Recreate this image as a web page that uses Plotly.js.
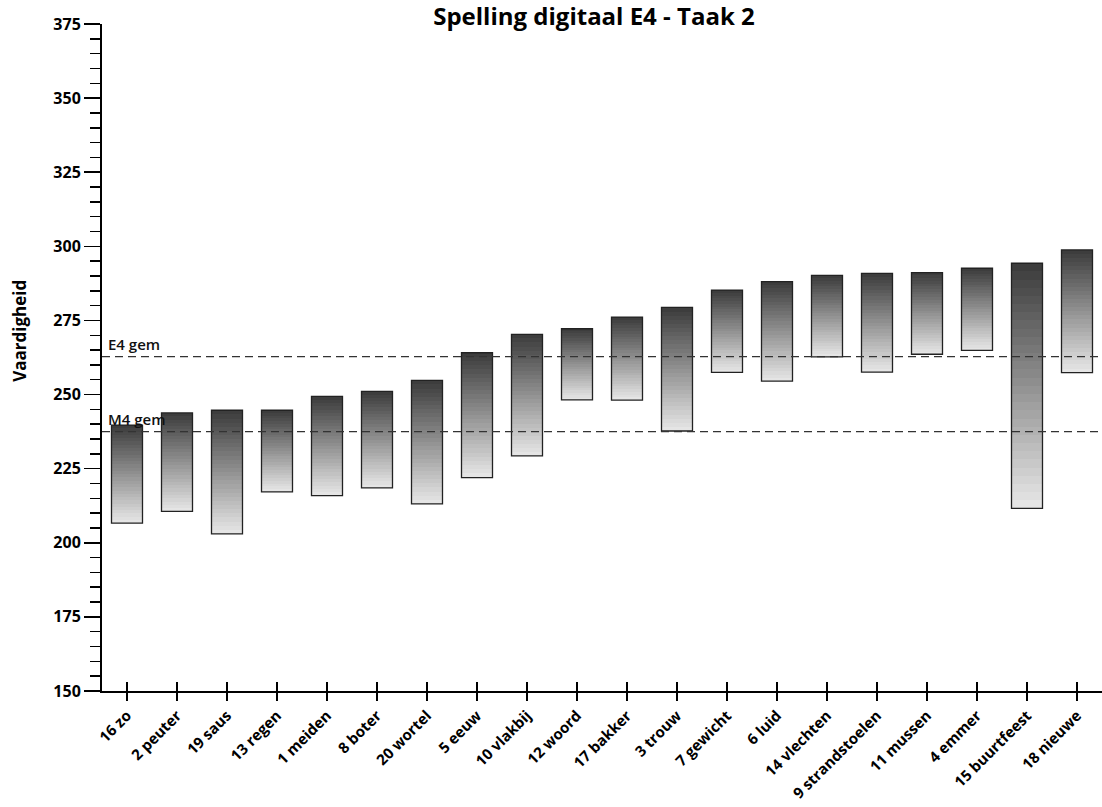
<!DOCTYPE html>
<html>
<head>
<meta charset="utf-8">
<script src="https://cdn.plot.ly/plotly-3.0.1.min.js"></script>
<style>html,body{margin:0;padding:0;background:#fff;}#chart{width:1102px;height:807px;}</style>
</head>
<body>
<div id="chart"></div>
<script>
// Data
const categories = ["16 zo","2 peuter","19 saus","13 regen","1 meiden","8 boter","20 wortel","5 eeuw","10 vlakbij","12 woord","17 bakker","3 trouw","7 gewicht","6 luid","14 vlechten","9 strandstoelen","11 mussen","4 emmer","15 buurtfeest","18 nieuwe"];
const highValues = [239.7,243.8,244.7,244.7,249.4,251.1,254.8,264.1,270.3,272.2,276.1,279.4,285.2,288.1,290.2,290.9,291.1,292.6,294.3,298.8];
const lowValues  = [206.6,210.6,203.0,217.2,215.9,218.5,213.1,222.0,229.3,248.2,248.1,237.7,257.5,254.5,262.7,257.6,263.6,264.9,211.6,257.4];
const refNames = ["E4 gem","M4 gem"];
const refValues = [262.8,237.5];
const chartTitle = "Spelling digitaal E4 - Taak 2";
const yTitle = "Vaardigheid";

const FONT = "Open Sans, Noto Sans, sans-serif";
const N = 30;
const dark = [58,58,58], light = [232,232,232];
function mix(t){ // t=0 bottom(light) .. 1 top(dark)
  const c = light.map((l,i)=>Math.round(l + (dark[i]-l)*t));
  return `rgb(${c[0]},${c[1]},${c[2]})`;
}
const traces = [];
for (let i = 0; i < N; i++) {
  const bases = lowValues.map((lo,k)=> lo + (highValues[k]-lo)*i/N);
  traces.push({
    type: 'bar', x: categories, base: bases,
    y: highValues.map((hi,k)=> hi - bases[k]),
    width: 0.62,
    marker: {color: mix((i+0.5)/N), line: {width: 0}},
    hoverinfo: 'skip', showlegend: false
  });
}
traces.push({
  type: 'bar', x: categories, base: lowValues,
  y: highValues.map((hi,k)=> hi - lowValues[k]),
  width: 0.62,
  marker: {color: 'rgba(0,0,0,0)', line: {width: 1.3, color: '#222'}},
  customdata: lowValues,
  hovertemplate: '%{x}: %{customdata} - %{y}<extra></extra>',
  showlegend: false
});
// invisible trace to activate xaxis2 (crossing tick marks)
traces.push({type:'scatter', x:[0], y:[150], xaxis:'x2', mode:'markers', marker:{opacity:0}, hoverinfo:'skip', showlegend:false});

const shapes = refValues.map(v => ({
  type: 'line', xref: 'paper', x0: 0, x1: 1, yref: 'y', y0: v, y1: v,
  line: {color: '#333', width: 1.3, dash: '8px,5px'}, layer: 'above'
}));
const annotations = refNames.map((n,i) => ({
  text: n, xref: 'paper', x: 0.004, xanchor: 'left', yref: 'y', y: refValues[i],
  yanchor: 'bottom', yshift: 1, showarrow: false,
  font: {family: FONT, size: 15, color: '#111', weight: 600}
}));
annotations.push({
  text: '<b>' + yTitle + '</b>', xref: 'paper', x: -0.082, xanchor: 'center',
  yref: 'y', y: 271.5, yanchor: 'middle', textangle: -90, showarrow: false,
  font: {family: FONT, size: 17, color: '#000'}
});

const layout = {
  width: 1102, height: 807,
  margin: {l: 102, r: 0, t: 24, b: 116},
  paper_bgcolor: '#fff', plot_bgcolor: '#fff',
  barmode: 'overlay', bargap: 0,
  title: {text: '<b>' + chartTitle + '</b>', x: 0.539, xanchor: 'center', y: 0.99, yanchor: 'top',
          pad: {t: 0}, font: {family: FONT, size: 24, color: '#000'}},
  font: {family: FONT, color: '#000'},
  xaxis: {
    type: 'category', range: [-0.5, 19.5], showgrid: false, zeroline: false,
    showline: true, linecolor: '#000', linewidth: 2,
    ticks: 'outside', ticklen: 8, tickwidth: 1.5, tickcolor: '#000',
    tickangle: -45, tickfont: {family: FONT, size: 15, color: '#000', weight: 'bold'}
  },
  xaxis2: {
    overlaying: 'x', anchor: 'y', side: 'bottom', range: [-0.5, 19.5],
    tickvals: categories.map((c,i)=>i), showticklabels: false,
    ticks: 'inside', ticklen: 9, tickwidth: 1.5, tickcolor: '#000',
    showgrid: false, zeroline: false, showline: false
  },
  yaxis: {
    range: [150, 375], dtick: 25, tick0: 150, showgrid: false, zeroline: false,
    showline: true, linecolor: '#000', linewidth: 2,
    ticks: 'outside', ticklen: 16, tickwidth: 1.5, tickcolor: '#000',
    tickfont: {family: FONT, size: 16, color: '#000', weight: 'bold'},
    minor: {dtick: 5, ticks: 'outside', ticklen: 10, tickwidth: 1.5, tickcolor: '#000', showgrid: false}
  },
  shapes: shapes,
  annotations: annotations
};
Plotly.newPlot('chart', traces, layout, {displayModeBar: false, staticPlot: true});
</script>
</body>
</html>
